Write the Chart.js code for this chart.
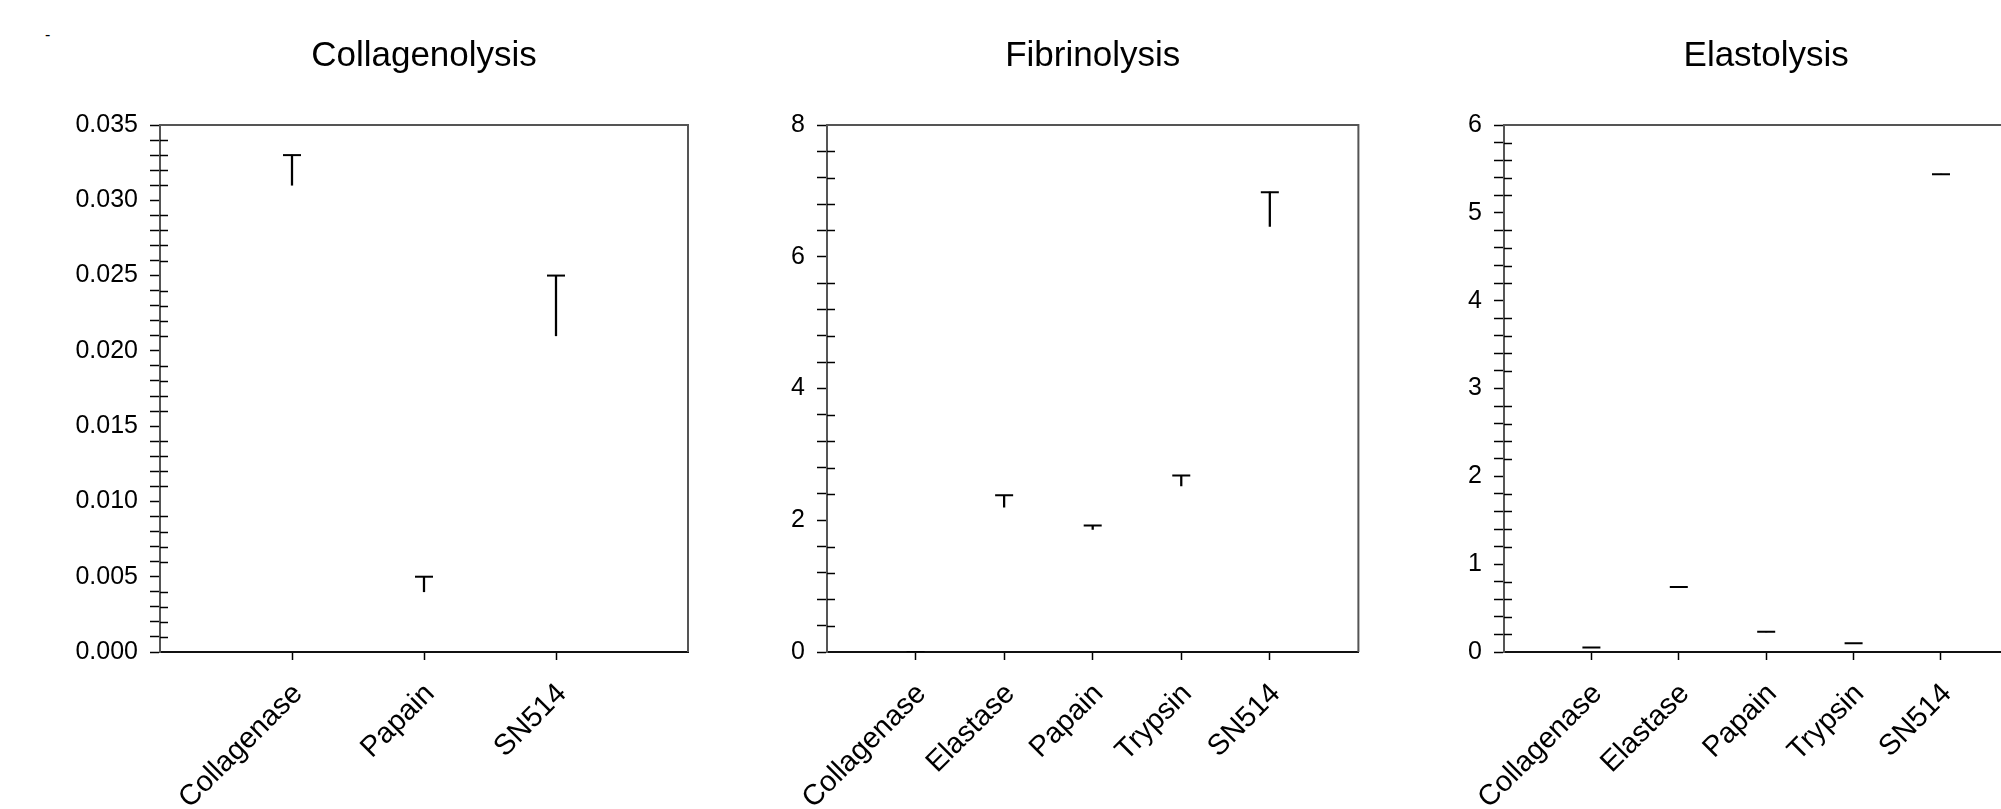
<!DOCTYPE html>
<html>
<head>
<meta charset="utf-8">
<script src="https://cdn.jsdelivr.net/npm/chart.js@4.4.1/dist/chart.umd.min.js"></script>
<style>
  html, body { margin: 0; padding: 0; background: #fff; overflow: hidden; }
  body { width: 2001px; height: 809px; position: relative; }
  canvas { position: absolute; top: 0; }
  #dash { position: absolute; left: 45px; top: 27px; font: 16px "Liberation Sans", Arial, sans-serif; line-height: 16px; color: #000; }
</style>
</head>
<body>
<div id="dash">-</div>
<canvas id="collagenChart" width="740" height="809" style="left:0px"></canvas>
<canvas id="fibrinChart" width="680" height="809" style="left:720px"></canvas>
<canvas id="elastinChart" width="680" height="809" style="left:1390px"></canvas>
<script>
// Collagenolysis
const collagenCats = ['Collagenase', 'Papain', 'SN514'];
const collagenMeans = [0.031, 0.004, 0.021];
const collagenErrs = [0.002, 0.001, 0.004];

// Fibrinolysis
const fibrinCats = ['Collagenase', 'Elastase', 'Papain', 'Trypsin', 'SN514'];
const fibrinMeans = [0, 2.2, 1.86, 2.52, 6.46];
const fibrinErrs = [0, 0.18, 0.06, 0.16, 0.52];

// Elastolysis
const elastinCats = ['Collagenase', 'Elastase', 'Papain', 'Trypsin', 'SN514'];
const elastinMeans = [0.05, 0.74, 0.23, 0.1, 5.44];
const elastinErrs = [0, 0, 0, 0, 0];

const FONT = '"Liberation Sans", Arial, sans-serif';

function isMajor(v, step) {
  const r = v / step;
  return Math.abs(r - Math.round(r)) < 1e-6;
}

const framePlugin = {
  id: 'frame',
  afterDraw(chart, args, opts) {
    const { ctx, chartArea: a, scales } = chart;
    ctx.save();
    ctx.strokeStyle = '#555';
    ctx.lineWidth = 2;
    ctx.beginPath();
    ctx.moveTo(a.left, a.top);
    ctx.lineTo(a.right, a.top);
    ctx.lineTo(a.right, a.bottom);
    ctx.stroke();
    // minor ticks also cross into the plot
    const y = scales.y;
    ctx.strokeStyle = '#000';
    ctx.lineWidth = 1.5;
    y.ticks.forEach(t => {
      if (isMajor(t.value, opts.major)) return;
      const py = Math.round(y.getPixelForValue(t.value)) + 0.5;
      ctx.beginPath();
      ctx.moveTo(a.left, py);
      ctx.lineTo(a.left + 8, py);
      ctx.stroke();
    });
    ctx.restore();
  }
};

function makePanel(id, title, cats, means, errs, axis, pad) {
  const labels = ['', ...cats, ''];
  const stems = [null, ...means.map((m, i) => [m, m + errs[i]]), null];
  const caps = [null, ...means.map((m, i) => m + errs[i]), null];
  const ctx = document.getElementById(id).getContext('2d');
  return new Chart(ctx, {
    type: 'bar',
    data: {
      labels: labels,
      datasets: [
        { type: 'bar', data: stems, backgroundColor: '#000', borderWidth: 0, barThickness: 1.6 },
        { type: 'line', data: caps, showLine: false, pointStyle: 'line', pointRadius: 9,
          pointHoverRadius: 9, borderColor: '#000', pointBorderWidth: 2, borderWidth: 2 }
      ]
    },
    options: {
      responsive: false,
      animation: false,
      devicePixelRatio: 1,
      layout: { padding: pad },
      plugins: {
        legend: { display: false },
        tooltip: { enabled: false },
        title: {
          display: true, text: title, color: '#000', fullSize: false,
          font: { family: FONT, size: 35, weight: 'normal' },
          padding: { top: 35, bottom: 48 }
        },
        frame: { major: axis.major }
      },
      scales: {
        x: {
          type: 'category',
          offset: false,
          grid: {
            offset: false, drawOnChartArea: false, tickLength: 8, tickWidth: 1.5,
            tickColor: c => (c.index === 0 || c.index === labels.length - 1) ? 'rgba(0,0,0,0)' : '#000'
          },
          border: { color: '#111', width: 2 },
          ticks: {
            color: '#000', font: { family: FONT, size: 29 }, maxRotation: 45, minRotation: 45,
            autoSkip: false, padding: 17, labelOffset: 6
          },
          afterFit: s => { s.height = 157; }
        },
        y: {
          min: 0, max: axis.max,
          grid: { drawOnChartArea: false, tickLength: 10, tickWidth: 1.5, tickColor: '#000' },
          border: { color: '#555', width: 2 },
          ticks: {
            stepSize: axis.minor, autoSkip: false, maxTicksLimit: 100, padding: 12,
            color: '#000', font: { family: FONT, size: 25 },
            callback: v => isMajor(v, axis.major) ? v.toFixed(axis.decimals) : ''
          },
          afterFit: s => { s.width = 100; }
        }
      }
    },
    plugins: [framePlugin]
  });
}

document.addEventListener('DOMContentLoaded', function() {
  makePanel('collagenChart', 'Collagenolysis', collagenCats, collagenMeans, collagenErrs,
    { max: 0.035, minor: 0.001, major: 0.005, decimals: 3 }, { left: 60, right: 52, top: 0, bottom: 0 });
  makePanel('fibrinChart', 'Fibrinolysis', fibrinCats, fibrinMeans, fibrinErrs,
    { max: 8, minor: 0.4, major: 2, decimals: 0 }, { left: 7, right: 40, top: 0, bottom: 0 });
  makePanel('elastinChart', 'Elastolysis', elastinCats, elastinMeans, elastinErrs,
    { max: 6, minor: 0.2, major: 1, decimals: 0 }, { left: 14, right: 36, top: 0, bottom: 0 });
});
</script>
</body>
</html>
